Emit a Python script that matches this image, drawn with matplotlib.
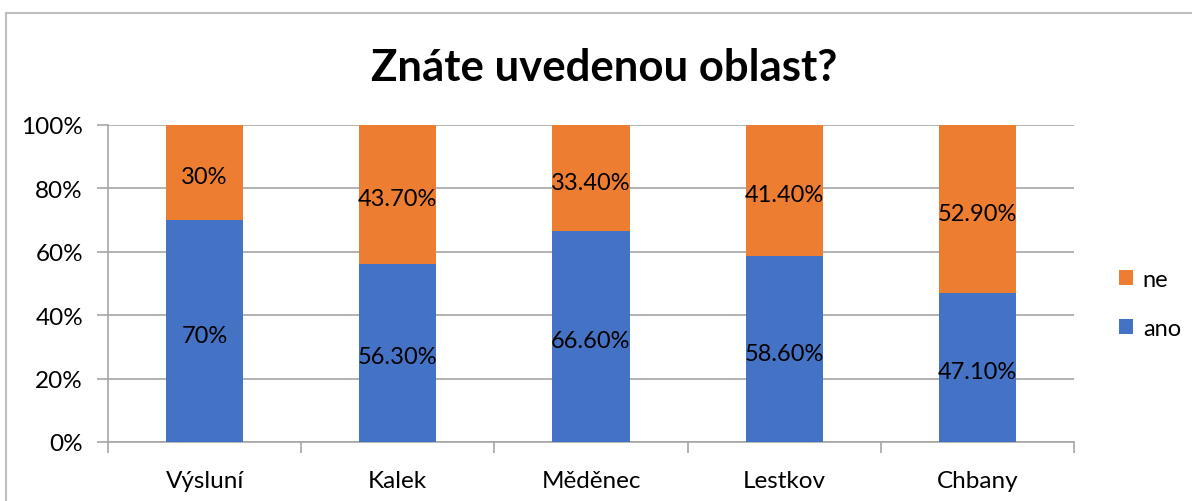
import matplotlib
matplotlib.use("Agg")
import matplotlib.pyplot as plt
from matplotlib.lines import Line2D
from matplotlib.ticker import PercentFormatter
import numpy as np

categories = ['Výsluní', 'Kalek', 'Měděnec', 'Lestkov', 'Chbany']
ano = [70, 56.3, 66.6, 58.6, 47.1]
ne = [30, 43.7, 33.4, 41.4, 52.9]
ano_labels = ['70%', '56.30%', '66.60%', '58.60%', '47.10%']
ne_labels = ['30%', '43.70%', '33.40%', '41.40%', '52.90%']

blue = '#4472C4'
orange = '#ED7D31'
grid = '#A6A6A6'

plt.rcParams['font.family'] = ['Lato', 'DejaVu Sans']

fig = plt.figure(figsize=(11.92, 5.02), dpi=100)
ax = fig.add_axes([108 / 1192, 1 - 443 / 502, 966 / 1192, 317 / 502])

x = np.arange(len(categories))
width = 0.4
b1 = ax.bar(x, ano, width, color=blue, label='ano', zorder=3)
b2 = ax.bar(x, ne, width, bottom=ano, color=orange, label='ne', zorder=3)

for i in range(len(categories)):
    ax.annotate(ano_labels[i], (x[i], ano[i] / 2), xytext=(0, -3), textcoords='offset points',
                ha='center', va='center', fontsize=17, zorder=4)
    ax.annotate(ne_labels[i], (x[i], ano[i] + ne[i] / 2), xytext=(0, -3), textcoords='offset points',
                ha='center', va='center', fontsize=17, zorder=4)

ax.set_xlim(-0.5, len(categories) - 0.5)
ax.set_ylim(0, 100)
ax.set_yticks(np.arange(0, 101, 20))
ax.yaxis.set_major_formatter(PercentFormatter(decimals=0))
ax.yaxis.grid(True, color=grid, linewidth=1.2, zorder=0)
ax.set_axisbelow(True)

ax.set_xticks(x)
ax.set_xticklabels(categories)
ax.set_xticks(np.arange(-0.5, len(categories)), minor=True)
ax.tick_params(axis='x', which='major', length=0, labelsize=17.5, pad=20)
ax.tick_params(axis='x', which='minor', length=8, color=grid, width=1.2)
ax.tick_params(axis='y', length=8, color=grid, width=1.2, labelsize=17.5, pad=10)

for s in ['top', 'right']:
    ax.spines[s].set_visible(False)
for s in ['left', 'bottom']:
    ax.spines[s].set_color(grid)
    ax.spines[s].set_linewidth(1.2)

fig.text(0.507, 1 - 68 / 502, 'Znáte uvedenou oblast?', ha='center', va='center',
         fontsize=31.5, fontweight='bold')

handles = [b2, b1]
fig.legend(handles, ['ne', 'ano'], loc='center left', bbox_to_anchor=(1098 / 1192, 1 - 305 / 502),
           frameon=False, fontsize=17, handlelength=0.6, handleheight=0.6,
           handletextpad=0.4, labelspacing=1.2)

# chart border (left and top edges visible)
fig.add_artist(Line2D([6 / 1192, 6 / 1192], [0, 1 - 14 / 502], color='#BFBFBF', linewidth=1.5))
fig.add_artist(Line2D([6 / 1192, 1], [1 - 14 / 502, 1 - 14 / 502], color='#BFBFBF', linewidth=1.5))

fig.savefig('out.png', dpi=100)
